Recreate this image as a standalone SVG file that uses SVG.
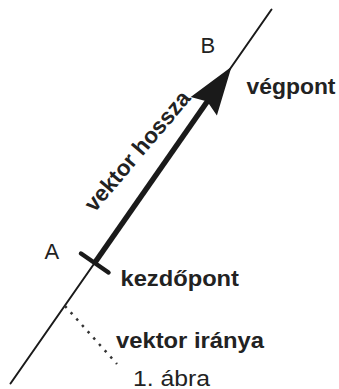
<svg xmlns="http://www.w3.org/2000/svg" width="339" height="389" viewBox="0 0 339 389">
<style>
.lbl{font-family:"Liberation Sans",Arial,sans-serif;font-size:22px;fill:#222}
.b{font-weight:bold;font-size:22.5px}
.thin{stroke:#1a1a1a;stroke-width:2;fill:none;stroke-linecap:round}
.thick{stroke:#1a1a1a;stroke-width:5.5;fill:none;stroke-linecap:butt}
</style>
<rect width="339" height="389" fill="#fff"/>
<g id="connectors">
  <line class="thin" x1="271.5" y1="9.5" x2="10.5" y2="383.5"/>
  <line x1="65" y1="306" x2="117" y2="364" stroke="#333" stroke-width="2.5" stroke-dasharray="2.5 6"/>
  <line class="thick" x1="94.6" y1="263" x2="208" y2="100.5"/>
  <line x1="81" y1="253.5" x2="108.5" y2="272.5" stroke="#1a1a1a" stroke-width="4.5" stroke-linecap="round"/>
  <polygon points="231.5,66.7 216.9,115.5 207.3,101.4 190.7,97.1" fill="#1a1a1a"/>
</g>
<g id="B"><text class="lbl" x="200.5" y="52.5">B</text></g>
<g id="vegpont"><text class="lbl b" x="246.5" y="94" textLength="89" lengthAdjust="spacingAndGlyphs">végpont</text></g>
<g id="hossza"><text class="lbl b" transform="translate(94.5,213) rotate(-49.6)" x="0" y="0" textLength="150" lengthAdjust="spacingAndGlyphs">vektor hossza</text></g>
<g id="A"><text class="lbl" x="44.5" y="259.3">A</text></g>
<g id="kezdopont"><text class="lbl b" x="120.5" y="286" textLength="118.5" lengthAdjust="spacingAndGlyphs">kezdőpont</text></g>
<g id="irany"><text class="lbl b" x="116" y="347.7" textLength="148" lengthAdjust="spacingAndGlyphs">vektor iránya</text></g>
<g id="abra"><text class="lbl" x="133" y="385.5" textLength="77" lengthAdjust="spacingAndGlyphs">1. ábra</text></g>
</svg>
